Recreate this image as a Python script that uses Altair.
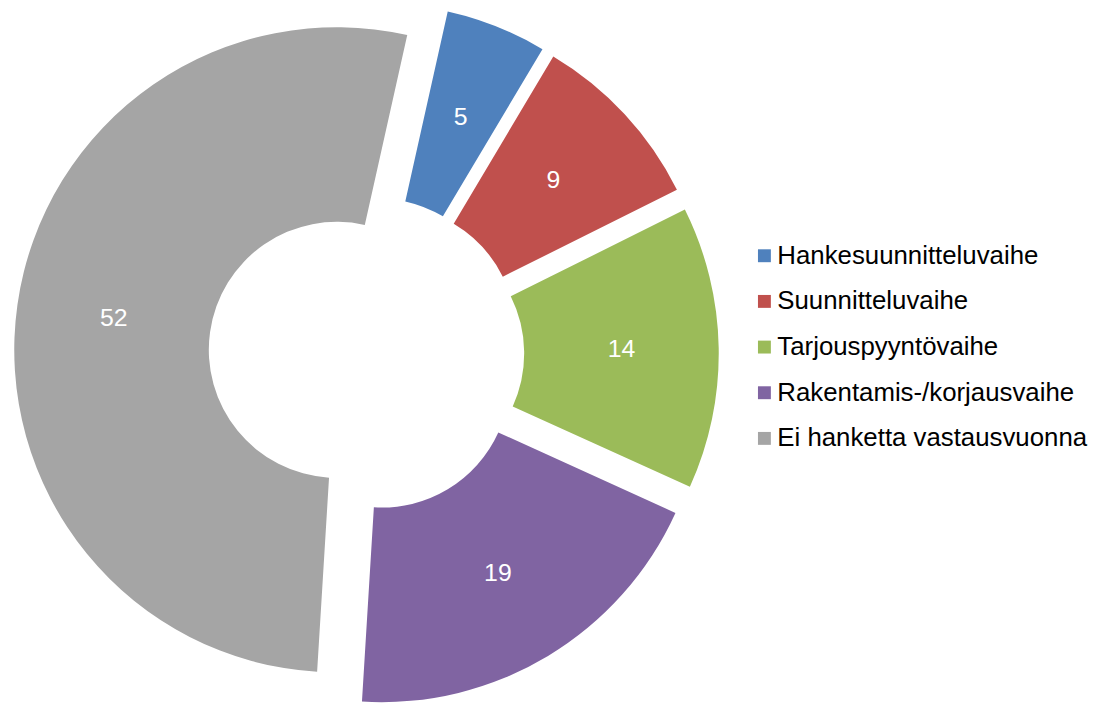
import math
import altair as alt
import pandas as pd

categories = [
    "Hankesuunnitteluvaihe",
    "Suunnitteluvaihe",
    "Tarjouspyyntövaihe",
    "Rakentamis-/korjausvaihe",
    "Ei hanketta vastausvuonna",
]
values = [5, 9, 14, 19, 52]
colors = ["#4F81BD", "#C0504D", "#9BBB59", "#8064A2", "#A5A5A5"]

df = pd.DataFrame({"cat": categories, "val": values, "ord": list(range(len(values)))})

# layout constants (pixels, chart coordinates)
CX, CY = 361, 346
R_OUT, R_IN = 325, 129
EXPLODE = 30
R_LABEL = (R_OUT + R_IN) / 2
START = math.radians(12.6)
FONT = "Liberation Sans"

base = (
    alt.Chart(df)
    .transform_joinaggregate(total="sum(val)")
    .transform_window(cum="sum(val)", sort=[alt.SortField("ord")])
    .transform_calculate(
        a1=f"{START} + 2*PI*datum.cum/datum.total",
        a0=f"{START} + 2*PI*(datum.cum - datum.val)/datum.total",
    )
    .transform_calculate(mid="(datum.a0 + datum.a1)/2")
    .transform_calculate(
        px=f"{CX} + {EXPLODE}*sin(datum.mid)",
        py=f"{CY} - {EXPLODE}*cos(datum.mid)",
        lx=f"{CX} + {EXPLODE + R_LABEL}*sin(datum.mid)",
        ly=f"{CY} - {EXPLODE + R_LABEL}*cos(datum.mid)",
    )
)

arcs = base.mark_arc(strokeWidth=0).encode(
    theta=alt.Theta("a0:Q", scale=None, stack=None),
    theta2="a1:Q",
    x=alt.X("px:Q", scale=None, axis=None),
    y=alt.Y("py:Q", scale=None, axis=None),
    radius=alt.value(R_OUT),
    radius2=alt.value(R_IN),
    color=alt.Color(
        "cat:N",
        scale=alt.Scale(domain=categories, range=colors),
        legend=alt.Legend(
            title=None,
            orient="none",
            legendX=749,
            legendY=234,
            symbolType="square",
            symbolSize=169,
            symbolStrokeWidth=0,
            labelFont=FONT,
            labelFontSize=26,
            labelColor="#000000",
            labelOffset=0,
            rowPadding=20,
            padding=0,
            labelLimit=400,
        ),
    ),
)

labels = base.mark_text(
    color="white", font=FONT, fontSize=25, align="center", baseline="middle"
).encode(
    x=alt.X("lx:Q", scale=None, axis=None),
    y=alt.Y("ly:Q", scale=None, axis=None),
    text=alt.Text("val:Q"),
)

chart = (
    alt.layer(arcs, labels)
    .properties(width=1091, height=697, autosize=alt.AutoSizeParams(type="none"), padding=0)
    .configure_view(stroke=None)
)

chart.save("out.html", embed_options={"renderer": "svg", "actions": False})
